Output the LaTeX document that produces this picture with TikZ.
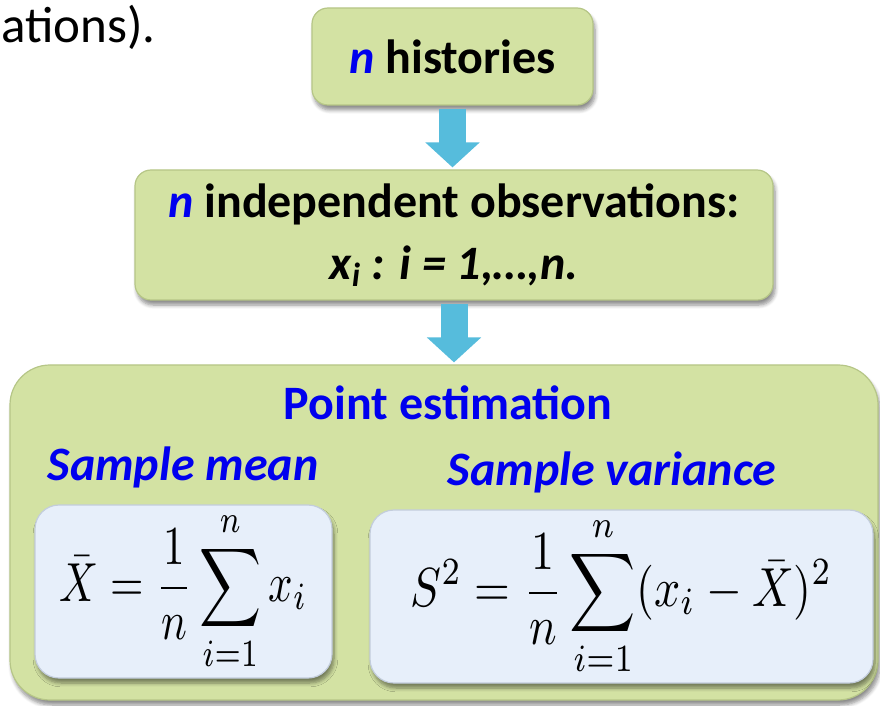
\documentclass[tikz,border=0pt]{standalone}
\usepackage{amsmath}
\usepackage{graphicx}
\usepackage{fontspec}
\setmainfont{Carlito}
\usetikzlibrary{arrows.meta,shadows.blur,calc}
\definecolor{boxgreen}{RGB}{211,226,163}
\definecolor{boxedge}{RGB}{182,198,135}
\definecolor{innerblue}{RGB}{231,239,250}
\definecolor{inneredge}{RGB}{195,205,220}
\definecolor{txtblue}{RGB}{0,0,238}
\definecolor{arrowcyan}{RGB}{86,188,220}
\begin{document}
\begin{tikzpicture}[x=0.5pt,y=-0.5pt,
  greenbox/.style={draw=boxedge, line width=0.6pt, fill=boxgreen, rounded corners=#1,
    blur shadow={shadow xshift=1pt, shadow yshift=-2.5pt, shadow blur steps=6, shadow opacity=45},
    inner sep=0pt, align=center},
  greenbox/.default=8pt,
  bluebox/.style={draw=inneredge, line width=0.6pt, fill=innerblue, rounded corners=12pt,
    blur shadow={shadow xshift=1pt, shadow yshift=-2.5pt, shadow blur steps=6, shadow opacity=45},
    inner sep=0pt, align=center},
  flowarrow/.style={line width=13.5pt, draw=arrowcyan, -{Triangle[width=26.5pt,length=12.5pt]}},
  headfont/.style={font=\fontsize{24}{31}\selectfont\bfseries},
  subfont/.style={font=\fontsize{24}{30}\selectfont\bfseries\itshape, text=txtblue}
]
\useasboundingbox (0,0) rectangle (880,706);

% slide text fragment
\node[anchor=base west, inner sep=0pt, font=\fontsize{25.5}{30}\selectfont] (frag) at (1,43) {ations).};

% boxes
\node[greenbox, headfont, minimum width=140.5pt, minimum height=48.5pt] (hist) at (452.5,56.5)
  {{\color{txtblue}\itshape n} histories};
\node[greenbox, headfont, minimum width=319pt, minimum height=65pt] (obs) at (454,235)
  {{\color{txtblue}\itshape n} independent observations:\\ {\itshape x\textsubscript{i} : i = 1,…,n.}};
\node[greenbox=20pt, minimum width=434pt, minimum height=167.5pt] (est) at (444,532.5) {};

% arrows
\draw[flowarrow, shorten <=1.5pt, shorten >=1pt] (hist.south) -- (hist.south |- obs.north);
\draw[flowarrow, shorten <=1.5pt, shorten >=1pt] (obs.south) -- (obs.south |- est.north);

% inside estimation box
\node[headfont, text=txtblue] (pe) at (448,403) {Point estimation};
\node[subfont] (sm) at (183,467) {Sample mean};
\node[subfont] (sv) at (612,472) {Sample variance};

\node[bluebox, minimum width=148.5pt, minimum height=86.5pt] (mean) at (183.5,591.5)
  {\scalebox{2.15}[2.75]{$\displaystyle \bar{X} = \frac{1}{n}\sum_{i=1}^{n} x_i$}};
\node[bluebox, minimum width=251.5pt, minimum height=86.5pt] (var) at (621.5,596.5)
  {\scalebox{2.3}[2.75]{$\displaystyle S^2 = \frac{1}{n}\sum_{i=1}^{n} (x_i - \bar{X})^2$}};
\end{tikzpicture}
\end{document}
